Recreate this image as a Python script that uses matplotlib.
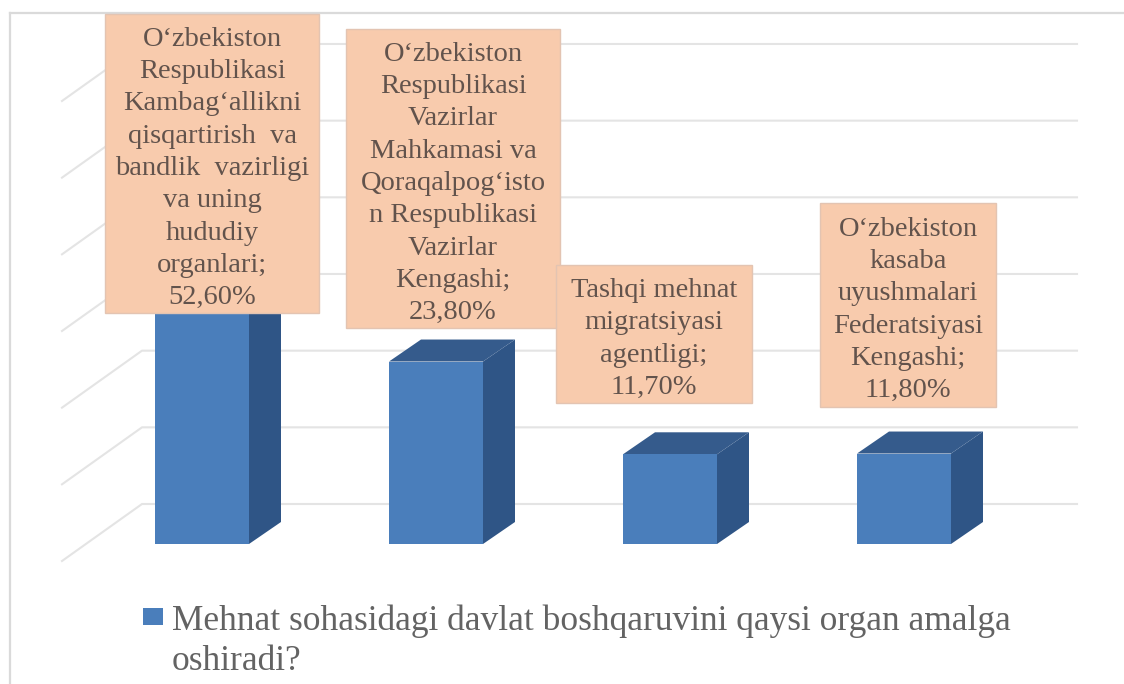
import matplotlib
matplotlib.use("Agg")
import matplotlib.pyplot as plt
from matplotlib.patches import Polygon, Rectangle, Patch
from matplotlib.legend_handler import HandlerPatch
from matplotlib.transforms import Affine2D

categories = [
    "O‘zbekiston\nRespublikasi\nKambag‘allikni\nqisqartirish  va\nbandlik  vazirligi\nva uning\nhududiy\norganlari",
    "O‘zbekiston\nRespublikasi\nVazirlar\nMahkamasi va\nQoraqalpog‘isto\nn Respublikasi\nVazirlar\nKengashi",
    "Tashqi mehnat\nmigratsiyasi\nagentligi",
    "O‘zbekiston\nkasaba\nuyushmalari\nFederatsiyasi\nKengashi",
]
values = [52.6, 23.8, 11.7, 11.8]
grid_values = [0, 10, 20, 30, 40, 50, 60]
legend_label = "Mehnat sohasidagi davlat boshqaruvini qaysi organ amalga\noshiradi?"

# label boxes in image pixels: left, top, right, bottom
label_boxes = [(105, 14, 319, 313), (346, 29, 560, 328), (556, 265, 752, 403), (820, 203, 996, 407)]

W, H = 1124, 684
FRONT, DARK, TOP = "#4A7EBB", "#2F5586", "#355B8C"
GRID, FRAME = "#E4E4E4", "#DADADA"
BOX, BOX_EDGE = "#F8CBAD", "#E3C4B2"
BOX_TEXT, LEG_TEXT = "#62534C", "#636363"

plt.rcParams["font.family"] = ["Liberation Serif", "DejaVu Serif"]
fig = plt.figure(figsize=(W / 100, H / 100), dpi=100, facecolor="white")
left_px, top_px = 10, 13
ax = fig.add_axes([left_px / W, 0, (W - left_px) / W, (H - top_px) / H])

step_px, unit_px = 234.0, 7.667   # pixels per category / per percent
x0_px, y0_px = 202.0, 544.0       # category 0 centre / bar base
ax.set_xlim((left_px - x0_px) / step_px, (W - x0_px) / step_px)
ax.set_ylim((y0_px - H) / unit_px, (y0_px - top_px) / unit_px)
ax.set_xticks([]); ax.set_yticks([])
for s in ["right", "bottom"]:
    ax.spines[s].set_visible(False)
for s in ["left", "top"]:
    ax.spines[s].set_color(FRAME)
    ax.spines[s].set_linewidth(1.6)

# depth of the bars and of the chart floor, in data units
bar_w = 94 / step_px
dx, dy = 32 / step_px, 22 / unit_px
wall_dx, wall_dy = 80 / step_px, 57 / unit_px
floor_x = (62 - x0_px) / step_px
floor_y = -17 / unit_px
right_x = (1077 - x0_px) / step_px

for g in grid_values:
    y = floor_y + g
    ax.plot([floor_x, floor_x + wall_dx, right_x], [y, y + wall_dy, y + wall_dy],
            color=GRID, lw=1.5, zorder=1, solid_joinstyle="round")

xs = list(range(len(values)))
ax.bar(xs, values, width=bar_w, color=FRONT, zorder=3)
for x, v in zip(xs, values):
    r = x + bar_w / 2
    l = x - bar_w / 2
    ax.add_patch(Polygon([(r, 0), (r + dx, dy), (r + dx, v + dy), (r, v)], color=DARK, zorder=2.9, lw=0))
    ax.add_patch(Polygon([(l, v), (r, v), (r + dx, v + dy), (l + dx, v + dy)], color=TOP, zorder=2.9, lw=0))

px = Affine2D().scale(1, -1).translate(0, H)
for cat, v, (x1, y1, x2, y2) in zip(categories, values, label_boxes):
    ax.add_patch(Rectangle((x1, y1), x2 - x1, y2 - y1, transform=px, facecolor=BOX,
                           edgecolor=BOX_EDGE, lw=1, zorder=5))
    label = f"{cat};\n{v:.2f}%".replace(".", ",")
    ax.text((x1 + x2) / 2, (y1 + y2) / 2 + 5, label, transform=px, ha="center", va="center",
            fontsize=20.5, color=BOX_TEXT, linespacing=1.385, zorder=6)


def first_line_square(legend, orig_handle, xdescent, ydescent, width, height, fontsize):
    # legend square sits beside the first of the two label lines
    return Rectangle((-xdescent, 20.4), 14.4, 12.2)


leg = ax.legend(handles=[Patch(facecolor=FRONT, label=legend_label)],
                handler_map={Patch: HandlerPatch(patch_func=first_line_square)},
                loc="upper left", bbox_to_anchor=(143 / W, 1 - 604.5 / H), bbox_transform=fig.transFigure,
                frameon=False, fontsize=25.5, handlelength=0.565, handleheight=0.48,
                handletextpad=0.25, borderpad=0, borderaxespad=0, labelspacing=0)
for t in leg.get_texts():
    t.set_color(LEG_TEXT)
    t.set_linespacing(1.27)

fig.savefig("out.png", dpi=100)
